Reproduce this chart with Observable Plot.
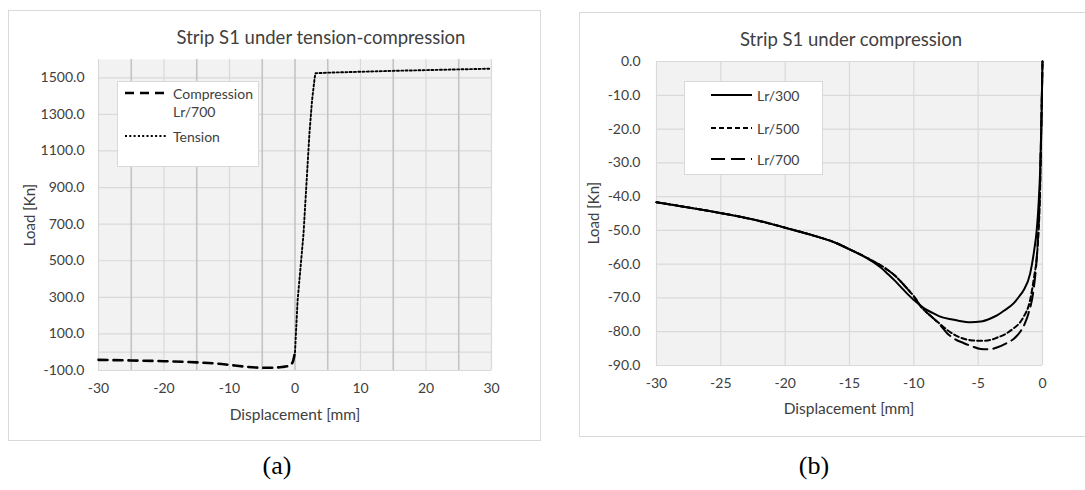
<!DOCTYPE html>
<html>
<head>
<meta charset="utf-8">
<script src="https://cdn.jsdelivr.net/npm/d3@7"></script>
<script src="https://cdn.jsdelivr.net/npm/@observablehq/plot@0.6"></script>
<style>
  html, body { margin: 0; padding: 0; background: #fff; }
  #root { position: relative; width: 1085px; height: 490px; overflow: hidden; font-family: Lato, "Open Sans", sans-serif; color: #404040; }
  .abs { position: absolute; white-space: nowrap; }
  .box { position: absolute; border: 1px solid #d9d9d9; box-sizing: border-box; background: #fff; }
  .ctr { transform: translate(-50%, -50%); }
</style>
</head>
<body>
<div id="root"></div>
<script>
// ---------- Data ----------
// Chart (b): Strip S1 under compression
const lr300X = [-30,-28,-26,-24,-22,-20,-18,-16,-15,-14,-13,-12.5,-12,-11.5,-11,-10.5,-10,-9.2,-8.5,-7.9,-7,-6.6,-5.6,-4.8,-4,-3.5,-3,-2.25,-1.8,-1.47,-0.96,-0.65,-0.45,-0.3,-0.18,-0.08,0];
const lr300Y = [-41.7,-42.9,-44.2,-45.6,-47.2,-49.2,-51.3,-53.8,-55.6,-57.5,-59.8,-61.2,-63,-64.8,-66.8,-68.8,-70.6,-73.1,-74.5,-75.6,-76.4,-76.7,-77.2,-77.0,-76.0,-75.1,-73.8,-71.6,-69.5,-67.7,-62.8,-56,-50,-42,-32,-18,0];

const lr500X = [-30,-28,-26,-24,-22,-20,-18,-16,-15,-14,-13,-12.5,-12,-11.5,-11,-10.5,-10,-9.4,-8.7,-8,-7.4,-6.4,-5.6,-4.8,-4,-3.5,-2.8,-2.25,-1.8,-1.47,-0.96,-0.65,-0.44,-0.3,-0.2,-0.12,-0.05,0];
const lr500Y = [-41.7,-42.9,-44.2,-45.6,-47.2,-49.2,-51.3,-53.8,-55.6,-57.4,-59.5,-60.5,-61.8,-63.3,-65.2,-67.3,-69.5,-72.8,-75.3,-77.6,-79.5,-81.7,-82.5,-82.7,-82.4,-81.7,-80.5,-79,-77.5,-75.6,-70.6,-63.7,-57.8,-50,-40,-25,-10,0];

const lr700X = [-30,-28,-26,-24,-22,-20,-18,-16,-15,-14,-13,-12.5,-12,-11.5,-11,-10.5,-10,-9.4,-8.7,-8,-7.4,-6.8,-6.1,-5.5,-4.8,-4.1,-3.5,-2.8,-2.2,-1.73,-1.4,-1.09,-0.7,-0.44,-0.3,-0.2,-0.12,-0.05,0];
const lr700Y = [-41.7,-42.9,-44.2,-45.6,-47.2,-49.2,-51.3,-53.8,-55.6,-57.4,-59.5,-60.5,-61.8,-63.3,-65.2,-67.3,-69.5,-72.8,-75.3,-77.8,-80.5,-82.2,-83.4,-84.3,-85.1,-85.2,-84.6,-83.4,-82,-80,-77.8,-74.6,-67.7,-57.8,-48,-38,-24,-10,0];

// Chart (a): Strip S1 under tension-compression
const compressionX = [-30,-25,-20,-15,-12,-10,-8,-6,-5,-4,-3,-2,-1,-0.4,0];
const compressionY = [-41.7,-45.1,-49.2,-55.6,-61.8,-69.5,-77.6,-83.8,-85.1,-85.2,-84,-81,-75,-58,0];
const tensionX = [0,0.4,1.3,2.2,2.6,3.0,3.15,5,10,15,20,25,30];
const tensionY = [0,284,648,1194,1376,1500,1525,1528,1533,1538,1542,1546,1550];

// Ticks / grids
const xTicksA = [-30,-20,-10,0,10,20,30];
const yTicksA = [-100,100,300,500,700,900,1100,1300,1500];
const gridYA = [-100,0,100,300,500,700,900,1100,1300,1500];
const gridXALight = [-30,-20,-10,10,20,30];
const gridXADark = [-25,-15,-5,0,5,15,25];
const xTicksB = [-30,-25,-20,-15,-10,-5,0];
const yTicksB = [-90,-80,-70,-60,-50,-40,-30,-20,-10,0];

const rows = (xs, ys) => xs.map((x, i) => ({x, y: ys[i]}));

const root = document.getElementById("root");
function add(html) { root.insertAdjacentHTML("beforeend", html); }

const axisStyle = "font: 14px Lato, 'Open Sans', sans-serif; color: #404040; background: transparent; overflow: visible;";

// Make sure dash patterns end up on the drawn paths
function enforceDashes(svg, dashes) {
  const groups = svg.querySelectorAll('g[aria-label="line"]');
  groups.forEach((g, i) => {
    if (dashes[i]) g.querySelectorAll("path").forEach(p => p.setAttribute("stroke-dasharray", dashes[i]));
  });
}

// ---------- Chart (a) ----------
add(`<div class="box" style="left:8px;top:10px;width:533px;height:431px;"></div>`);
const dashComp = "9,6", dashTens = "2,2.3";
const plotA = Plot.plot({
  width: 531, height: 429,
  marginLeft: 89, marginRight: 49, marginTop: 48, marginBottom: 70,
  style: axisStyle,
  x: {domain: [-30, 30], ticks: xTicksA, tickFormat: d => String(d), tickSize: 0, tickPadding: 13, label: null},
  y: {domain: [-100, 1600], ticks: yTicksA, tickFormat: d => d.toFixed(1), tickSize: 0, tickPadding: 14, label: null},
  marks: [
    Plot.frame({fill: "#f2f2f2", stroke: "none"}),
    Plot.ruleY(gridYA, {stroke: "#d9d9d9", strokeWidth: 1.2}),
    Plot.ruleX(gridXALight, {stroke: "#d9d9d9", strokeWidth: 1.2}),
    Plot.ruleX(gridXADark, {stroke: "#c4c4c4", strokeWidth: 1.6}),
    Plot.line(rows(compressionX, compressionY), {x: "x", y: "y", stroke: "#000", strokeWidth: 2.6, strokeDasharray: dashComp, curve: "monotone-x"}),
    Plot.line(rows(tensionX, tensionY), {x: "x", y: "y", stroke: "#000", strokeWidth: 1.9, strokeDasharray: dashTens, curve: "linear"})
  ]
});
enforceDashes(plotA, [dashComp, dashTens]);
plotA.style.position = "absolute";
plotA.style.left = "9px";
plotA.style.top = "11px";
root.appendChild(plotA);

add(`<div class="abs ctr" style="left:321px;top:37px;font-size:18.5px;color:#404040;">Strip S1 under tension-compression</div>`);
add(`<div class="abs" style="left:29px;top:215px;font-size:15px;transform:translate(-50%,-50%) rotate(-90deg);">Load [Kn]</div>`);
add(`<div class="abs ctr" style="left:295px;top:414px;font-size:15.5px;">Displacement [mm]</div>`);

// Legend (a)
add(`<div class="box" style="left:117px;top:81px;width:142px;height:86px;"></div>`);
add(`<svg class="abs" style="left:124px;top:88px;" width="46" height="10"><line x1="1" x2="45" y1="5" y2="5" stroke="#000" stroke-width="2.6" stroke-dasharray="${dashComp}"/></svg>`);
add(`<div class="abs" style="left:173px;top:93px;transform:translateY(-50%);font-size:14px;">Compression</div>`);
add(`<div class="abs" style="left:173px;top:110.5px;transform:translateY(-50%);font-size:14px;">Lr/700</div>`);
add(`<svg class="abs" style="left:124px;top:131px;" width="46" height="10"><line x1="1" x2="43" y1="5" y2="5" stroke="#000" stroke-width="1.9" stroke-dasharray="${dashTens}"/></svg>`);
add(`<div class="abs" style="left:173px;top:136px;transform:translateY(-50%);font-size:14px;">Tension</div>`);

// ---------- Chart (b) ----------
add(`<div class="box" style="left:579px;top:12px;width:520px;height:425px;"></div>`);
const dash700 = "14,6", dash500 = "5,3";
const plotB = Plot.plot({
  width: 505, height: 423,
  marginLeft: 76, marginRight: 43, marginTop: 48, marginBottom: 71,
  style: axisStyle,
  x: {domain: [-30, 0], ticks: xTicksB, tickFormat: d => String(d), tickSize: 0, tickPadding: 13, label: null},
  y: {domain: [-90, 0], ticks: yTicksB, tickFormat: d => d.toFixed(1), tickSize: 0, tickPadding: 16, label: null},
  marks: [
    Plot.frame({fill: "#f2f2f2", stroke: "none"}),
    Plot.ruleY(yTicksB, {stroke: "#d9d9d9", strokeWidth: 1.2}),
    Plot.ruleX(xTicksB, {stroke: "#d9d9d9", strokeWidth: 1.2}),
    Plot.line(rows(lr700X, lr700Y), {x: "x", y: "y", stroke: "#000", strokeWidth: 2, strokeDasharray: dash700, curve: "monotone-x"}),
    Plot.line(rows(lr500X, lr500Y), {x: "x", y: "y", stroke: "#000", strokeWidth: 2, strokeDasharray: dash500, curve: "monotone-x"}),
    Plot.line(rows(lr300X, lr300Y), {x: "x", y: "y", stroke: "#000", strokeWidth: 2, curve: "monotone-x"})
  ]
});
enforceDashes(plotB, [dash700, dash500, null]);
plotB.style.position = "absolute";
plotB.style.left = "580px";
plotB.style.top = "13px";
root.appendChild(plotB);

add(`<div class="abs ctr" style="left:851px;top:39px;font-size:18.5px;color:#404040;">Strip S1 under compression</div>`);
add(`<div class="abs" style="left:593px;top:213px;font-size:15px;transform:translate(-50%,-50%) rotate(-90deg);">Load [Kn]</div>`);
add(`<div class="abs ctr" style="left:849px;top:408px;font-size:15.5px;">Displacement [mm]</div>`);

// Legend (b)
add(`<div class="box" style="left:684px;top:81px;width:139px;height:94px;"></div>`);
const legB = [["Lr/300", "none", 95], ["Lr/500", dash500, 128], ["Lr/700", dash700, 159]];
legB.forEach(([name, dash, cy]) => {
  add(`<svg class="abs" style="left:710px;top:${cy - 5}px;" width="44" height="10"><line x1="1" x2="42" y1="5" y2="5" stroke="#000" stroke-width="2" stroke-dasharray="${dash}"/></svg>`);
  add(`<div class="abs" style="left:757px;top:${cy}px;transform:translateY(-50%);font-size:14px;">${name}</div>`);
});

// Captions
add(`<div class="abs ctr" style="left:277px;top:466px;font-family:'Liberation Serif','Times New Roman',serif;font-size:26px;color:#000;">(a)</div>`);
add(`<div class="abs ctr" style="left:814px;top:466px;font-family:'Liberation Serif','Times New Roman',serif;font-size:26px;color:#000;">(b)</div>`);
</script>
</body>
</html>
